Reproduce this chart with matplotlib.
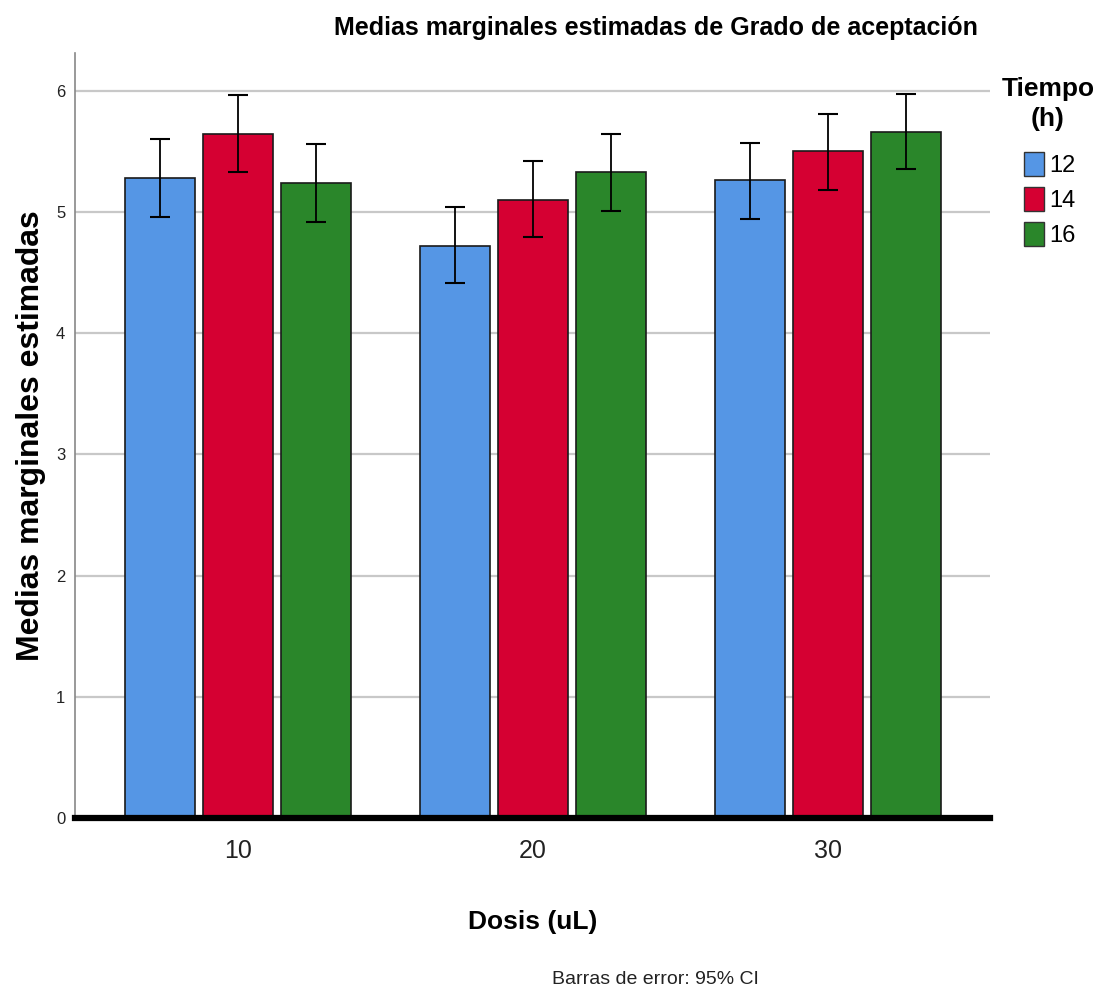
import numpy as np
import matplotlib
matplotlib.use('Agg')
import matplotlib.pyplot as plt
from matplotlib.patches import Patch

plt.rcParams['font.family'] = ['Liberation Sans', 'DejaVu Sans']

# 数据
dosis = ['10', '20', '30']
tiempos = ['12', '14', '16']
medias = {
    '12': [5.28, 4.72, 5.26],
    '14': [5.645, 5.10, 5.50],
    '16': [5.24, 5.325, 5.66],
}
ci_inf = {
    '12': [4.96, 4.41, 4.94],
    '14': [5.33, 4.79, 5.18],
    '16': [4.92, 5.01, 5.35],
}
ci_sup = {
    '12': [5.60, 5.04, 5.57],
    '14': [5.96, 5.42, 5.81],
    '16': [5.56, 5.64, 5.97],
}
colores = {'12': '#5596e5', '14': '#d50032', '16': '#2a862a'}

W, H = 1102, 994
fig = plt.figure(figsize=(W / 100, H / 100), dpi=100)
ax = fig.add_axes([75 / W, 1 - 818 / H, (990 - 75) / W, (818 - 53) / H])

x = np.arange(len(dosis))
ancho = 0.237
paso = 0.264
for i, t in enumerate(tiempos):
    pos = x + (i - 1) * paso
    m = np.array(medias[t])
    lo = m - np.array(ci_inf[t])
    hi = np.array(ci_sup[t]) - m
    ax.bar(pos, m, width=ancho, color=colores[t], edgecolor='#1a1a1a',
           linewidth=1.2, zorder=3)
    ax.errorbar(pos, m, yerr=[lo, hi], fmt='none', ecolor='black',
                elinewidth=1.3, capsize=7.5, capthick=1.5, zorder=4)

ax.set_xlim(-0.553, 2.549)
ax.set_ylim(0, 6.31)
ax.set_yticks(range(0, 7))
ax.set_xticks(x)
ax.set_xticklabels(dosis, fontsize=18, color='#222222')
ax.tick_params(axis='y', length=0, labelsize=12, pad=7, colors='#222222')
ax.tick_params(axis='x', length=0, pad=15)
ax.grid(axis='y', color='#c8c8c8', linewidth=1.6, zorder=0)
ax.set_axisbelow(True)
for s in ['top', 'right']:
    ax.spines[s].set_visible(False)
ax.spines['left'].set_color('#888888')
ax.spines['left'].set_linewidth(1.2)
ax.spines['bottom'].set_color('black')
ax.spines['bottom'].set_linewidth(4.5)
ax.spines['bottom'].set_zorder(5)

ax.set_ylabel('Medias marginales estimadas', fontsize=23, fontweight='bold',
              labelpad=7)
ax.set_xlabel('Dosis (uL)', fontsize=19, fontweight='bold', labelpad=34)

fig.text(656 / W, 1 - 28 / H, 'Medias marginales estimadas de Grado de aceptación',
         ha='center', va='center', fontsize=18, fontweight='bold')
fig.text(655 / W, 1 - 980 / H, 'Barras de error: 95% CI', ha='center',
         va='center', fontsize=14, color='#222222')

# leyenda
fig.text(1048 / W, 1 - 104 / H, 'Tiempo\n(h)', ha='center', va='center',
         fontsize=19, fontweight='bold', linespacing=1.3)
handles = [Patch(facecolor=colores[t], edgecolor='#333333', linewidth=1.0) for t in tiempos]
fig.legend(handles, tiempos, loc='upper left',
           bbox_to_anchor=(1024 / W, 1 - 152 / H), frameon=False,
           fontsize=17, handlelength=0.85, handleheight=1.2,
           handletextpad=0.2, labelspacing=0.42, borderpad=0,
           borderaxespad=0)

fig.savefig('out.png', dpi=100)
